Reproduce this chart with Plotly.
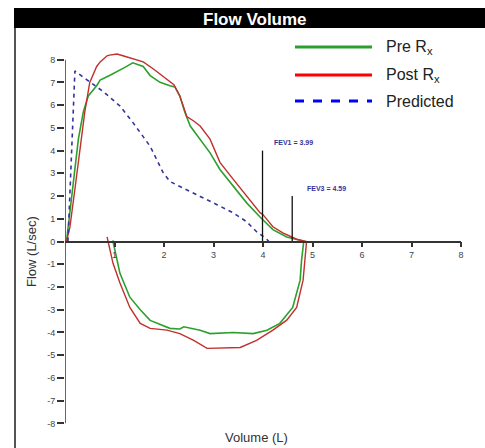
import plotly.graph_objects as go

# ---------------- data ----------------
pre_exp_vol = [0.03, 0.08, 0.13, 0.2, 0.27, 0.37, 0.47, 0.64, 0.71, 0.9, 1.05, 1.2, 1.37, 1.45, 1.58,
               1.72, 1.92, 2.12, 2.22, 2.32, 2.42, 2.53, 2.73, 2.93, 3.13, 3.4, 3.67, 3.94, 4.2,
               4.48, 4.65, 4.85]
pre_exp_flow = [0.0, 0.96, 1.84, 3.0, 4.5, 5.7, 6.4, 6.85, 7.1, 7.3, 7.46, 7.65, 7.86, 7.8, 7.7,
                7.3, 7.0, 6.85, 6.8, 6.4, 5.7, 5.08, 4.5, 3.9, 3.17, 2.42, 1.7, 1.08, 0.52,
                0.2, 0.1, 0.0]
pre_insp_vol = [4.85, 4.82, 4.78, 4.75, 4.6, 4.34, 4.08, 3.8, 3.4, 2.93, 2.73, 2.4, 2.32, 2.12,
                1.72, 1.52, 1.31, 1.11, 1.01, 0.98, 0.97]
pre_insp_flow = [0.0, -0.06, -0.8, -1.7, -2.9, -3.6, -3.9, -4.05, -4.0, -4.05, -3.9, -3.75, -3.85,
                 -3.82, -3.47, -3.0, -2.45, -1.4, -0.5, -0.1, 0.05]

post_exp_vol = [0.03, 0.1, 0.2, 0.3, 0.4, 0.5, 0.64, 0.71, 0.85, 0.9, 1.05, 1.17, 1.37, 1.58,
                1.78, 2.06, 2.2, 2.32, 2.46, 2.6, 2.73, 2.93, 3.13, 3.4, 3.67, 3.94, 4.0, 4.2,
                4.4, 4.68, 4.88]
post_exp_flow = [0.0, 0.64, 2.3, 4.05, 5.7, 7.0, 7.7, 7.9, 8.17, 8.2, 8.25, 8.17, 8.04, 7.9,
                 7.6, 7.15, 6.9, 6.4, 5.5, 5.3, 5.08, 4.5, 3.48, 2.73, 1.98, 1.27, 1.18, 0.65,
                 0.38, 0.1, 0.0]
post_insp_vol = [4.88, 4.86, 4.81, 4.68, 4.48, 4.2, 3.87, 3.54, 3.13, 2.87, 2.6, 2.32, 2.06,
                 1.72, 1.52, 1.31, 1.11, 0.97, 0.87, 0.85]
post_insp_flow = [0.0, -0.5, -1.7, -2.9, -3.46, -3.9, -4.35, -4.66, -4.7, -4.7, -4.35, -4.05,
                  -3.9, -3.82, -3.6, -2.9, -1.83, -0.96, 0.0, 0.2]

pred_vol = [0.06, 0.2, 0.45, 0.77, 1.11, 1.37, 1.72, 1.98, 2.12, 2.46, 2.73, 3.07, 3.4, 3.67,
            3.87, 4.05, 4.12]
pred_flow = [0.0, 7.5, 7.1, 6.6, 5.96, 5.24, 4.19, 3.04, 2.64, 2.29, 1.98, 1.62, 1.26, 0.87,
             0.43, 0.15, 0.0]

fev1_vol, fev1_height = 3.99, 4.0
fev3_vol, fev3_height = 4.59, 2.0
fev_labels = ["FEV1 = 3.99", "FEV3 = 4.59"]

x_ticks = [1, 2, 3, 4, 5, 6, 7, 8]
y_ticks = list(range(-8, 9))
legend_names = ["Pre R<sub>x</sub>", "Post R<sub>x</sub>", "Predicted"]

# ---------------- styles ----------------
GREEN = "#2ca02c"
RED = "#c0302c"
NAVY = "#33339c"
AX = "#333333"
FONT = "Liberation Sans, Arial"

Y_MAX = 8.6  # axis range padding so peaks are not clipped

fig = go.Figure()
fig.add_trace(go.Scatter(x=pre_exp_vol + pre_insp_vol, y=pre_exp_flow + pre_insp_flow,
                         mode="lines", line=dict(color=GREEN, width=1.6), showlegend=False))
fig.add_trace(go.Scatter(x=post_exp_vol + post_insp_vol, y=post_exp_flow + post_insp_flow,
                         mode="lines", line=dict(color=RED, width=1.4), showlegend=False))
fig.add_trace(go.Scatter(x=pred_vol, y=pred_flow, mode="lines",
                         line=dict(color=NAVY, width=1.6, dash="4px,4px"), showlegend=False))
# FEV markers
for v, h in [(fev1_vol, fev1_height), (fev3_vol, fev3_height)]:
    fig.add_trace(go.Scatter(x=[v, v], y=[0, h], mode="lines",
                             line=dict(color="#111111", width=1.3), showlegend=False))

W, H = 485, 448
# plot area: flow +8 at y=60px, -8 at y=423px
PPU = (423 - 60) / 16.0
Y0 = (423 + 60) / 2.0
top_px = Y0 - Y_MAX * PPU
bot_px = Y0 + Y_MAX * PPU
L, R = 65, 24
T, B = int(round(top_px)), int(round(H - bot_px))


def pxx(p):
    return (p - L) / (W - L - R)


def pxy(p):
    return (H - B - p) / (H - T - B)


shapes = []
annotations = []
# y-axis line only from -8 to 8
shapes.append(dict(type="line", xref="x", yref="y", x0=0, x1=0, y0=y_ticks[0], y1=y_ticks[-1],
                   line=dict(color=AX, width=1.5)))
# title bar and left frame line
shapes.append(dict(type="rect", xref="paper", yref="paper", x0=pxx(14), x1=pxx(490),
                   y0=pxy(28), y1=pxy(8), fillcolor="black", line=dict(width=0), layer="below"))
shapes.append(dict(type="line", xref="paper", yref="paper", x0=pxx(15), x1=pxx(15),
                   y0=pxy(28), y1=pxy(452), line=dict(color="#555555", width=2)))
annotations.append(dict(text="<b>Flow Volume</b>", xref="paper", yref="paper", x=pxx(255),
                        y=pxy(19), showarrow=False, font=dict(color="white", size=17, family=FONT),
                        xanchor="center", yanchor="middle"))

# legend (manual)
leg_colors = [GREEN, "#ff0000", "#0000ff"]
leg_dash = ["solid", "solid", "dash"]
leg_y = [47, 75, 101]
for name, c, d, yy in zip(legend_names, leg_colors, leg_dash, leg_y):
    shapes.append(dict(type="line", xref="paper", yref="paper", x0=pxx(295), x1=pxx(372),
                       y0=pxy(yy), y1=pxy(yy), line=dict(color=c, width=3, dash=d)))
    annotations.append(dict(text=name, xref="paper", yref="paper", x=pxx(384), y=pxy(yy),
                            showarrow=False, xanchor="left", yanchor="middle",
                            font=dict(size=16, color="#222222", family=FONT)))

# FEV labels
annotations.append(dict(text="<b>" + fev_labels[0] + "</b>", x=fev1_vol + 0.2, y=fev1_height + 0.34,
                        xref="x", yref="y", showarrow=False, xanchor="left", yanchor="middle",
                        font=dict(size=7, color=NAVY, family=FONT)))
annotations.append(dict(text="<b>" + fev_labels[1] + "</b>", x=fev3_vol + 0.26, y=fev3_height + 0.31,
                        xref="x", yref="y", showarrow=False, xanchor="left", yanchor="middle",
                        font=dict(size=7, color=NAVY, family=FONT)))

# axis titles
annotations.append(dict(text="Flow (L/sec)", xref="paper", yref="paper", x=pxx(32), y=pxy(252),
                        textangle=-90, showarrow=False, xanchor="center", yanchor="middle",
                        font=dict(size=13, color="#333333", family=FONT)))
annotations.append(dict(text="Volume (L)", xref="paper", yref="paper", x=pxx(256), y=pxy(437),
                        showarrow=False, xanchor="center", yanchor="middle",
                        font=dict(size=13, color="#333333", family=FONT)))

fig.update_layout(
    width=W, height=H,
    margin=dict(l=L, r=R, t=T, b=B),
    paper_bgcolor="white", plot_bgcolor="white",
    shapes=shapes, annotations=annotations,
    font=dict(family=FONT),
    xaxis=dict(range=[0, 8], anchor="free", position=0.5, tickvals=x_ticks,
               ticktext=[str(t) for t in x_ticks], ticks="outside", ticklen=5, tickwidth=1.5,
               tickcolor=AX, showline=True, linecolor=AX, linewidth=1.5, showgrid=False,
               zeroline=False, tickfont=dict(size=9, color="#444444")),
    yaxis=dict(range=[-Y_MAX, Y_MAX], tickvals=y_ticks, ticktext=[str(t) for t in y_ticks],
               ticks="outside", ticklen=7, tickwidth=1.5, tickcolor=AX, showline=False,
               showgrid=False, zeroline=False, tickfont=dict(size=9, color="#444444")),
)

fig.write_html("out.html")
